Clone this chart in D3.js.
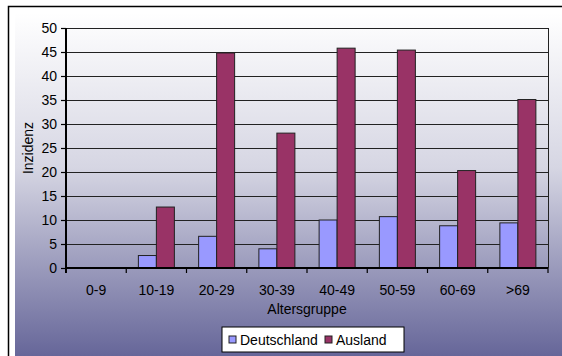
<!DOCTYPE html>
<html>
<head>
<meta charset="utf-8">
<script src="https://cdn.jsdelivr.net/npm/d3@7"></script>
<style>
  body { margin: 0; background: #fff; }
  svg text { font-family: "Liberation Sans", Arial, sans-serif; fill: #000; }
</style>
</head>
<body>
<svg id="chart" width="562" height="356"></svg>
<script>
// Altersgruppen und Werte
var categories = ["0-9", "10-19", "20-29", "30-39", "40-49", "50-59", "60-69", ">69"];
var seriesNames = ["Deutschland", "Ausland"];
var deutschland = [0, 2.6, 6.6, 4.0, 10.0, 10.7, 8.8, 9.4];
var ausland = [0, 12.7, 44.8, 28.1, 45.8, 45.4, 20.3, 35.1];
var yTicks = [0, 5, 10, 15, 20, 25, 30, 35, 40, 45, 50];
var colors = ["#9999ff", "#993366"];

var svg = d3.select("#chart");

// background gradient
var defs = svg.append("defs");
var grad = defs.append("linearGradient")
    .attr("id", "bg").attr("x1", 0).attr("y1", 0).attr("x2", 0).attr("y2", 1);
grad.append("stop").attr("offset", "0%").attr("stop-color", "#ffffff");
grad.append("stop").attr("offset", "45%").attr("stop-color", "#d6d6e3");
grad.append("stop").attr("offset", "100%").attr("stop-color", "#666699");

svg.append("rect")
    .attr("x", 15).attr("y", 13).attr("width", 547).attr("height", 343)
    .attr("fill", "url(#bg)");

// outer frame (only top and left visible)
svg.append("path")
    .attr("d", "M8.5,400 V6.5 H562")
    .attr("fill", "none").attr("stroke", "#000").attr("stroke-width", 1.5);

var plotLeft = 66, plotTop = 28, plotRight = 548, plotBottom = 268;

var x = d3.scaleBand().domain(categories).range([plotLeft, plotRight]);
var y = d3.scaleLinear().domain([0, 50]).range([plotBottom, plotTop]);

var barW = 18;
var inner = d3.scaleBand().domain(seriesNames)
    .range([x.bandwidth() / 2 - barW, x.bandwidth() / 2 + barW]);

// grid lines
svg.append("g")
    .selectAll("line")
    .data(yTicks.filter(function(d) { return d > 0; }))
    .enter().append("line")
    .attr("x1", plotLeft).attr("x2", plotRight)
    .attr("y1", function(d) { return Math.round(y(d)) + 0.5; })
    .attr("y2", function(d) { return Math.round(y(d)) + 0.5; })
    .attr("stroke", "#222").attr("stroke-width", 1);

// right border of plot
svg.append("line")
    .attr("x1", plotRight + 0.5).attr("x2", plotRight + 0.5)
    .attr("y1", plotTop).attr("y2", plotBottom)
    .attr("stroke", "#222");

// bars
var data = categories.map(function(c, i) {
    return { cat: c, values: [deutschland[i], ausland[i]] };
});

var groups = svg.append("g").selectAll("g")
    .data(data).enter().append("g")
    .attr("transform", function(d) { return "translate(" + x(d.cat) + ",0)"; });

groups.selectAll("rect")
    .data(function(d) { return d.values.map(function(v, i) { return { name: seriesNames[i], v: v, i: i }; }); })
    .enter().append("rect")
    .filter(function(d) { return d.v > 0; })
    .attr("x", function(d) { return inner(d.name); })
    .attr("width", inner.bandwidth())
    .attr("y", function(d) { return y(d.v); })
    .attr("height", function(d) { return plotBottom - y(d.v); })
    .attr("fill", function(d) { return colors[d.i]; })
    .attr("stroke", "#222").attr("stroke-width", 1);

// y axis
var yAxis = svg.append("g")
    .attr("transform", "translate(" + plotLeft + ",0)")
    .call(d3.axisLeft(y).tickValues(yTicks).tickSize(5).tickPadding(4));
yAxis.select(".domain").attr("stroke", "#000").attr("stroke-width", 2)
    .attr("d", "M0," + plotTop + "V" + (plotBottom + 5));
yAxis.selectAll(".tick line").attr("stroke", "#000").attr("stroke-width", 1.2);
yAxis.selectAll("text").style("font-size", "14px").attr("fill", "#000");

// x axis
var xAxis = svg.append("g")
    .attr("transform", "translate(0," + plotBottom + ")")
    .call(d3.axisBottom(x).tickSize(0).tickPadding(17));
xAxis.select(".domain").attr("stroke", "#000").attr("stroke-width", 2)
    .attr("d", "M" + plotLeft + ",0H" + plotRight);
xAxis.selectAll("text").style("font-size", "14px").attr("fill", "#000");

// x tick marks at category boundaries
svg.append("g").selectAll("line")
    .data(categories)
    .enter().append("line")
    .attr("x1", function(d) { return x(d) + x.bandwidth(); })
    .attr("x2", function(d) { return x(d) + x.bandwidth(); })
    .attr("y1", plotBottom).attr("y2", plotBottom + 5)
    .attr("stroke", "#000").attr("stroke-width", 1.2);

// axis titles
svg.append("text")
    .attr("x", (plotLeft + plotRight) / 2).attr("y", 314)
    .attr("text-anchor", "middle")
    .style("font-size", "14px")
    .text("Altersgruppe");

svg.append("text")
    .attr("transform", "translate(33," + ((plotTop + plotBottom) / 2) + ") rotate(-90)")
    .attr("text-anchor", "middle")
    .style("font-size", "14px")
    .text("Inzidenz");

// legend
var legend = svg.append("g").attr("transform", "translate(222,327)");
legend.append("rect")
    .attr("width", 182).attr("height", 25)
    .attr("fill", "#fff").attr("stroke", "#000").attr("stroke-width", 1);

var legendX = [7, 103];
seriesNames.forEach(function(name, i) {
    legend.append("rect")
        .attr("x", legendX[i]).attr("y", 9)
        .attr("width", 7).attr("height", 7)
        .attr("fill", colors[i]).attr("stroke", "#222");
    legend.append("text")
        .attr("x", legendX[i] + 11).attr("y", 17.5)
        .style("font-size", "14px")
        .text(name);
});
</script>
</body>
</html>
